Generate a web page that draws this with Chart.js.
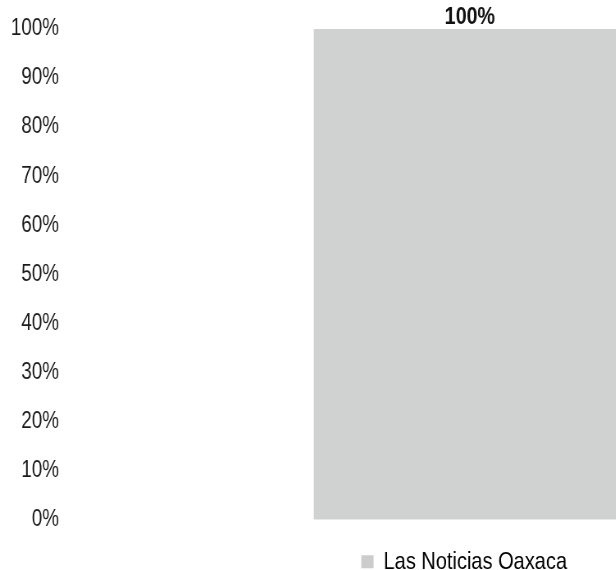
<!DOCTYPE html>
<html>
<head>
<meta charset="utf-8">
<script src="https://cdn.jsdelivr.net/npm/chart.js@4"></script>
<style>
html,body{margin:0;padding:0;background:#fff;overflow:hidden;width:616px;height:570px;}
/* the reference uses a condensed face (Arial Narrow-like); emulate by condensing the canvas horizontally */
#wrap{width:1132px;height:584px;position:relative;transform:scaleX(0.82);transform-origin:0 0;}
</style>
</head>
<body>
<div id="wrap"><canvas id="c"></canvas></div>
<script>
const categories = ["Las Noticias Oaxaca"];
const seriesName = "Las Noticias Oaxaca";
const values = [100];
const yTicks = [0,10,20,30,40,50,60,70,80,90,100];

const FONT = "'Liberation Sans', Arial, sans-serif";

const valueLabels = {
  id: 'valueLabels',
  afterDatasetsDraw(chart) {
    const ctx = chart.ctx;
    const meta = chart.getDatasetMeta(0);
    ctx.save();
    ctx.font = "bold 24px " + FONT;
    ctx.fillStyle = "#111";
    ctx.textAlign = "center";
    ctx.textBaseline = "bottom";
    meta.data.forEach((bar, i) => {
      ctx.fillText(values[i] + "%", bar.x, bar.y);
    });
    ctx.restore();
  }
};

new Chart(document.getElementById('c'), {
  type: 'bar',
  data: {
    labels: categories,
    datasets: [{
      label: seriesName,
      data: values,
      backgroundColor: '#d0d1d1',
      borderWidth: 0,
      barThickness: 380
    }]
  },
  options: {
    responsive: true,
    maintainAspectRatio: false,
    animation: false,
    layout: { padding: { top: 29, right: 0, left: 0, bottom: 0 } },
    scales: {
      x: {
        display: true,
        grid: { display: false },
        border: { display: false },
        ticks: { display: false },
        afterFit(axis) { axis.height = 26; }
      },
      y: {
        min: 0, max: 100,
        afterBuildTicks(axis) { axis.ticks = yTicks.map(v => ({ value: v })); },
        afterFit(axis) { axis.width = 90; },
        grid: { display: false },
        border: { display: false },
        ticks: {
          padding: 10,
          color: '#1a1a1a',
          font: { family: FONT, size: 23 },
          callback: v => v + '%'
        }
      },
      spacer: {
        type: 'linear',
        position: 'right',
        display: true,
        grid: { display: false },
        border: { display: false },
        ticks: { display: false },
        afterFit(axis) { axis.width = 76; }
      }
    },
    plugins: {
      legend: {
        position: 'bottom',
        labels: {
          boxWidth: 15, boxHeight: 13,
          color: '#555',
          padding: 4,
          font: { family: FONT, size: 24.4 },
          generateLabels(chart) {
            return [{ text: seriesName, fillStyle: '#cccccc', strokeStyle: '#cccccc', lineWidth: 0, datasetIndex: 0 }];
          }
        }
      },
      tooltip: { enabled: false }
    }
  },
  plugins: [valueLabels]
});
</script>
</body>
</html>
